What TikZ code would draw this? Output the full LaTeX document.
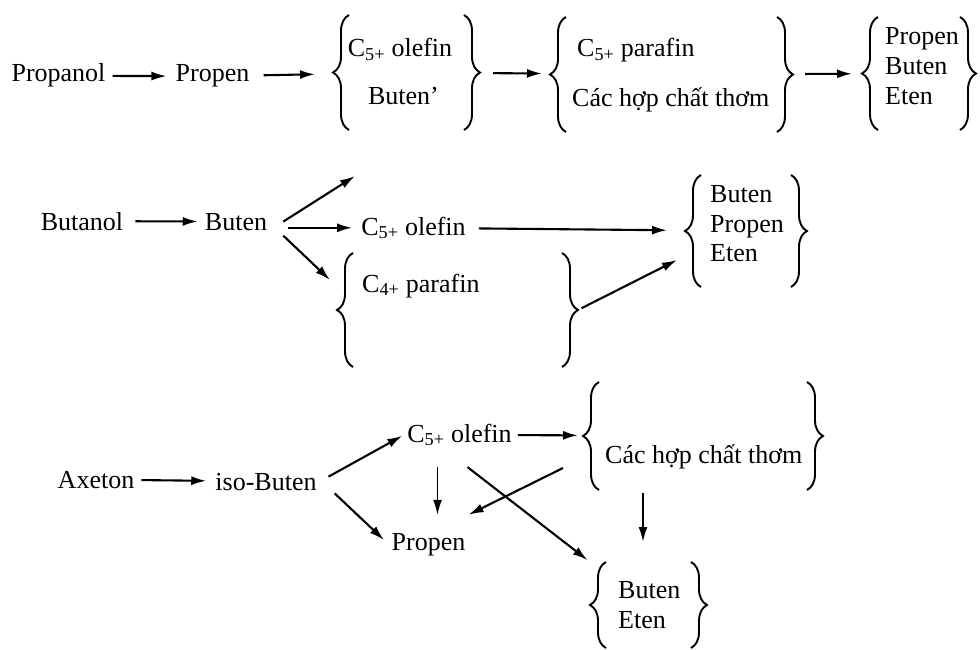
\documentclass[tikz,border=0pt]{standalone}
\usepackage{fontspec}
\setmainfont{Liberation Serif}
\usepackage{tikz}
\usetikzlibrary{arrows.meta,decorations.pathreplacing}

% both braces of a group box
\newcommand{\bracepair}[1]{%
  \draw[brc] (#1.south west) -- (#1.north west);
  \draw[brc] (#1.north east) -- (#1.south east);}

\begin{document}
\begin{tikzpicture}[x=1pt, y=-1pt,
    every node/.style={font=\fontsize{26}{30}\selectfont, inner sep=3pt},
    txt/.style={anchor=base},
    lft/.style={anchor=base west},
    grp/.style={inner sep=0pt, outer sep=0pt},
    brc/.style={decorate, decoration={brace, amplitude=16pt, raise=-16pt}, line width=1.9pt},
    arr/.style={-{Latex[length=15pt, width=9pt]}, line width=2.1pt, shorten <=4pt, shorten >=6pt}]
\useasboundingbox (0,0) rectangle (980,650);

% row 1: propanol
\node[txt] (propanol) at (58.5,82) {Propanol};
\node[txt] (propen) at (212.5,82) {Propen};
\node[grp, minimum width=147pt, minimum height=115pt] (mixA) at (406.5,72.5) {};
\node[txt] (olefinA) at (400,57) {C\textsubscript{5+} olefin};
\node[txt] (butenA) at (403.5,105) {Buten’};
\node[grp, minimum width=243pt, minimum height=115pt] (mixB) at (671.5,74.5) {};
\node[lft] (parafinA) at (574,57) {C\textsubscript{5+} parafin};
\node[lft] (aromA) at (569,107) {Các hợp chất thơm};
\node[grp, minimum width=114pt, minimum height=113pt] (gasA) at (919,73.5) {};
\node[lft] (propenA) at (882,45) {Propen};
\node[lft] (butenA2) at (882,75) {Buten};
\node[lft] (etenA) at (882,105) {Eten};

\bracepair{mixA}
\bracepair{mixB}
\bracepair{gasA}

\draw[arr] (propanol) -- (propen);
\draw[arr, shorten <=11pt, shorten >=18pt] (propen) -- (mixA);
\draw[arr, shorten <=13pt, shorten >=8pt] (mixA) -- (mixB);
\draw[arr, shorten <=12pt, shorten >=10pt] (mixB) -- (gasA);

% row 2: butanol
\node[txt] (butanol) at (82,230) {Butanol};
\node[txt] (butenB) at (236,230) {Buten};
\coordinate (upend) at (355,176);
\node[txt] (olefinB) at (413.5,235) {C\textsubscript{5+} olefin};
\node[grp, minimum width=241pt, minimum height=114pt] (parafinmix) at (457.5,310) {};
\node[lft] (parafinB) at (359,292) {C\textsubscript{4+} parafin};
\node[grp, minimum width=122pt, minimum height=112pt] (gasB) at (746,231) {};
\node[lft] (butenB2) at (707,202) {Buten};
\node[lft] (propenB) at (707,232) {Propen};
\node[lft] (etenB) at (707,261) {Eten};

\bracepair{parafinmix}
\bracepair{gasB}

\draw[arr, shorten <=9pt, shorten >=4pt] (butanol) -- (butenB);
\draw[arr, shorten <=0pt, shorten >=0pt] ([xshift=13pt]butenB.east) -- (upend);
\draw[arr, shorten <=18pt] (butenB.east |- olefinB) -- (olefinB);
\draw[arr, shorten <=0pt, shorten >=0pt] ([xshift=13pt, yshift=-14pt]butenB.east) -- ([xshift=-7pt, yshift=30pt]parafinmix.west);
\draw[arr, shorten <=10pt, shorten >=18pt] (olefinB) -- (gasB);
\draw[arr, shorten >=0pt] (parafinmix.east) -- ([xshift=-8pt, yshift=-29pt]gasB.west);

% row 3: axeton
\node[txt] (axeton) at (96,488) {Axeton};
\node[txt] (isobuten) at (266,490) {iso-Buten};
\node[txt] (olefinC) at (459.5,442) {C\textsubscript{5+} olefin};
\node[txt] (propenC) at (428.5,550) {Propen};
\node[grp, minimum width=240pt, minimum height=108pt] (aromix) at (703,436) {};
\node[lft] (aromC) at (602,463) {Các hợp chất thơm};
\node[grp, minimum width=117pt, minimum height=86pt] (gasC) at (648.5,605) {};
\node[lft] (butenC) at (615,598) {Buten};
\node[lft] (etenC) at (615,628) {Eten};

\bracepair{aromix}
\bracepair{gasC}

\draw[arr] (axeton) -- (isobuten);
\draw[arr, shorten <=10pt, shorten >=2pt] (isobuten.east) -- (olefinC.west);
\draw[arr, shorten <=0pt] ([xshift=15pt]isobuten.south east) -- (propenC.west);
\draw[arr, line width=1.3pt, shorten <=18pt, shorten >=15pt] ([xshift=-22pt]olefinC.south) -- ([xshift=9pt]propenC.north);
\draw[arr, shorten <=3pt, shorten >=5pt] (olefinC) -- (aromix);
\draw[arr, shorten <=0pt, shorten >=0pt] ([xshift=-20pt, yshift=-32pt]aromix.west) -- ([yshift=15pt]propenC.north east);
\draw[arr, shorten <=0pt, shorten >=3pt] ([xshift=8pt, yshift=-18pt]olefinC.south) -- (gasC.north west);
\draw[arr, shorten <=3pt, shorten >=20pt] ([xshift=-60pt]aromix.south) -- ([xshift=-5.5pt]gasC.north);
\end{tikzpicture}
\end{document}
